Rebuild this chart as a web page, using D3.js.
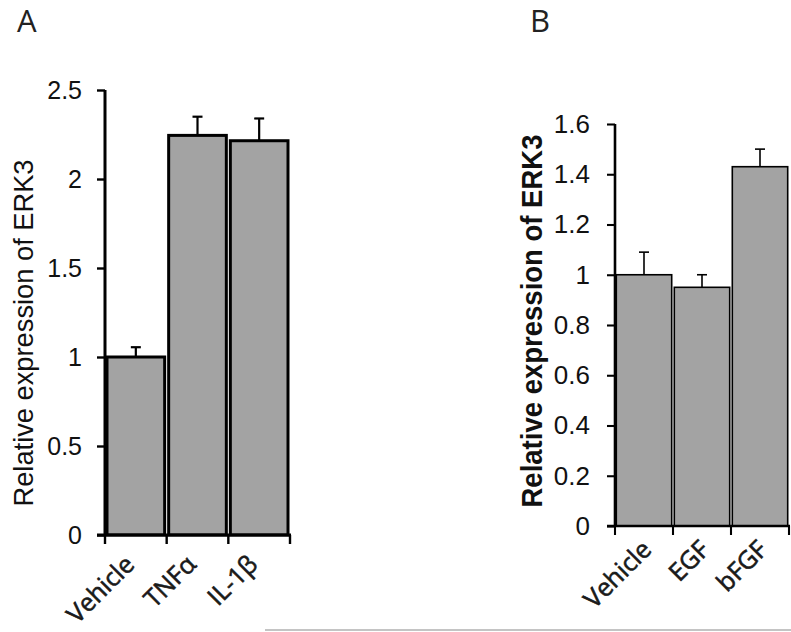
<!DOCTYPE html>
<html><head><meta charset="utf-8">
<script src="https://cdn.jsdelivr.net/npm/d3@7"></script>
<style>body{margin:0;background:#fff;} svg{display:block;}</style>
</head><body>
<svg id="chart" width="791" height="632"></svg>
<script>
// Panel A data
const categoriesA = ["Vehicle", "TNFα", "IL-1β"];
const valuesA = [1.0, 2.245, 2.215];
const errorsA = [0.055, 0.105, 0.125];
const ticksA = [0, 0.5, 1, 1.5, 2, 2.5];
// Panel B data
const categoriesB = ["Vehicle", "EGF", "bFGF"];
const valuesB = [1.0, 0.95, 1.43];
const errorsB = [0.09, 0.05, 0.07];
const ticksB = [0, 0.2, 0.4, 0.6, 0.8, 1, 1.2, 1.4, 1.6];
const yTitle = "Relative expression of ERK3";

const svg = d3.select("#chart");
const fmt = v => String(+v.toFixed(1));

function panel(cfg) {
  const g = svg.append("g");
  const x = d3.scaleBand().domain(cfg.cats).range([cfg.x0, cfg.x1]).padding(0);
  const y = d3.scaleLinear().domain([0, cfg.ymax]).range([cfg.yb, cfg.yt]);
  const bw = x.bandwidth();
  // bars
  g.selectAll("rect.bar").data(cfg.vals).enter().append("rect")
    .attr("x", (d, i) => x(cfg.cats[i]) + cfg.bsw / 2 + 0.5)
    .attr("width", bw - cfg.bsw - 1)
    .attr("y", d => y(d))
    .attr("height", d => y(0) - y(d))
    .attr("fill", "#a3a3a3").attr("stroke", "#000").attr("stroke-width", cfg.bsw);
  // error bars
  cfg.vals.forEach((v, i) => {
    const cx = x(cfg.cats[i]) + bw / 2;
    g.append("line").attr("x1", cx).attr("x2", cx).attr("y1", y(v)).attr("y2", y(v + cfg.errs[i]))
      .attr("stroke", "#000").attr("stroke-width", cfg.esw);
    g.append("line").attr("x1", cx - 5).attr("x2", cx + 5).attr("y1", y(v + cfg.errs[i])).attr("y2", y(v + cfg.errs[i]))
      .attr("stroke", "#000").attr("stroke-width", cfg.esw);
  });
  // y axis
  const ya = d3.axisLeft(y).tickValues(cfg.ticks).tickFormat(fmt).tickSize(8).tickPadding(cfg.tp);
  const yg = g.append("g").attr("transform", `translate(${cfg.x0},0)`).call(ya);
  yg.select(".domain").attr("stroke-width", cfg.asw).attr("d", `M0,${cfg.yt}V${cfg.yb}`);
  yg.selectAll(".tick line").attr("stroke-width", cfg.asw * 0.8);
  yg.selectAll(".tick text").attr("font-family", "Liberation Sans, Arial, sans-serif")
    .attr("font-size", cfg.tfs).attr("fill", "#111");
  // x axis line + boundary ticks
  g.append("line").attr("x1", cfg.x0 - 8).attr("x2", cfg.x1 + 1).attr("y1", cfg.yb).attr("y2", cfg.yb)
    .attr("stroke", "#000").attr("stroke-width", cfg.asw);
  const bounds = cfg.cats.map(c => x(c)).concat([cfg.x1]);
  g.selectAll("line.xt").data(bounds).enter().append("line")
    .attr("x1", d => d).attr("x2", d => d).attr("y1", cfg.yb).attr("y2", cfg.yb + 9)
    .attr("stroke", "#000").attr("stroke-width", cfg.asw * 0.8);
  // x labels
  g.selectAll("text.xl").data(cfg.cats).enter().append("text")
    .attr("transform", d => `translate(${x(d) + bw / 2 + cfg.lx},${cfg.yb + cfg.ly}) rotate(-45)`)
    .attr("text-anchor", "end")
    .attr("font-family", "'Open Sans', sans-serif").attr("font-size", 25).attr("fill", "#1a1a1a")
    .attr("stroke", "#1a1a1a").attr("stroke-width", 0.6)
    .text(d => d);
  // y title
  g.append("text")
    .attr("transform", `translate(${cfg.tx},${cfg.ty}) rotate(-90)`)
    .attr("text-anchor", "middle")
    .attr("font-family", "Liberation Sans, Arial, sans-serif")
    .attr("font-size", cfg.ttfs).attr("font-weight", cfg.tw).attr("fill", "#111")
    .attr("textLength", cfg.tl).attr("lengthAdjust", "spacingAndGlyphs")
    .text(yTitle);
  // panel letter
  g.append("text").attr("x", cfg.px).attr("y", cfg.py)
    .attr("font-family", "'Open Sans', sans-serif").attr("font-size", 31).attr("fill", "#222")
    .text(cfg.letter);
}

panel({cats: categoriesA, vals: valuesA, errs: errorsA, ticks: ticksA, ymax: 2.5,
  x0: 105, x1: 290, yb: 535, yt: 90, bsw: 3, esw: 2.2, asw: 3, tp: 15, tfs: 25,
  lx: 0, ly: 31, tx: 33, ty: 333, ttfs: 28, tw: "normal", tl: 347, px: 17, py: 32, letter: "A"});
panel({cats: categoriesB, vals: valuesB, errs: errorsB, ticks: ticksB, ymax: 1.6,
  x0: 615, x1: 789, yb: 526, yt: 124, bsw: 1.6, esw: 1.6, asw: 2.6, tp: 17, tfs: 26,
  lx: 9, ly: 25, tx: 542, ty: 321, ttfs: 30, tw: "bold", tl: 373, px: 530, py: 32, letter: "B"});

// bottom separator line
svg.append("line").attr("x1", 265).attr("x2", 791).attr("y1", 630).attr("y2", 630)
  .attr("stroke", "#c4c4c4").attr("stroke-width", 2);
</script>
</body></html>
